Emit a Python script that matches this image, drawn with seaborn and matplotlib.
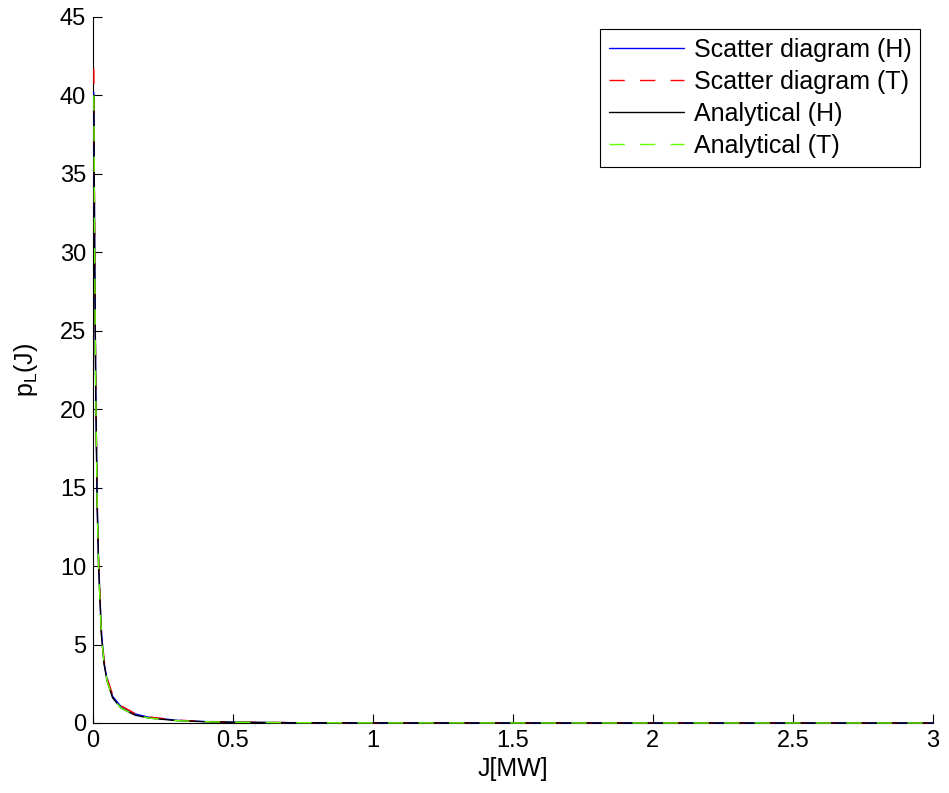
import numpy as np
import pandas as pd
import matplotlib
matplotlib.use("Agg")
import matplotlib.pyplot as plt
import seaborn as sns

# data
J = [0.003, 0.006, 0.01, 0.015, 0.02, 0.03, 0.04, 0.05, 0.07, 0.1, 0.15, 0.2, 0.3, 0.4, 0.5, 0.7, 1.0, 1.5, 2.0, 2.5, 3.0]
scatter_H = [40.2, 30.0, 21.0, 14.0, 10.2, 5.8, 3.8, 2.8, 1.7, 1.05, 0.58, 0.36, 0.17, 0.09, 0.05, 0.02, 0.008, 0.003, 0.001, 0.0005, 0.0002]
scatter_T = [41.7, 30.5, 21.2, 14.2, 10.3, 5.9, 3.9, 2.9, 1.8, 1.1, 0.6, 0.38, 0.18, 0.1, 0.055, 0.022, 0.009, 0.003, 0.001, 0.0005, 0.0002]
anal_H = [40.0, 29.5, 20.8, 13.8, 10.0, 5.6, 3.7, 2.7, 1.6, 0.95, 0.5, 0.31, 0.15, 0.08, 0.045, 0.018, 0.007, 0.002, 0.001, 0.0004, 0.0002]
anal_T = [40.0, 29.5, 20.8, 13.8, 10.0, 5.6, 3.7, 2.7, 1.6, 0.95, 0.5, 0.31, 0.15, 0.08, 0.045, 0.018, 0.007, 0.002, 0.001, 0.0004, 0.0002]
labels = ["Scatter diagram (H)", "Scatter diagram (T)", "Analytical (H)", "Analytical (T)"]
x_ticks = [0, 0.5, 1, 1.5, 2, 2.5, 3]
y_ticks = [0, 5, 10, 15, 20, 25, 30, 35, 40, 45]

sns.set_style("white")
plt.rcParams['font.family'] = ['Liberation Sans', 'DejaVu Sans']
plt.rcParams['text.color'] = 'black'
plt.rcParams['axes.labelcolor'] = 'black'

fig = plt.figure(figsize=(9.49, 7.93), dpi=100)
ax = fig.add_axes([0.098, 0.0883, 0.885, 0.8903])

df = pd.DataFrame({"J": J, "sH": scatter_H, "sT": scatter_T, "aH": anal_H, "aT": anal_T})
sns.lineplot(data=df, x="J", y="sH", ax=ax, color="#0000ff", lw=1.0, label=labels[0])
sns.lineplot(data=df, x="J", y="sT", ax=ax, color="#ff0000", lw=1.0, label=labels[1])
sns.lineplot(data=df, x="J", y="aH", ax=ax, color="#000000", lw=1.0, label=labels[2])
sns.lineplot(data=df, x="J", y="aT", ax=ax, color="#66ff00", lw=1.0, label=labels[3])
lines = ax.get_lines()
lines[1].set_dashes([11, 11])
lines[3].set_dashes([11, 11])
for ln in lines:
    ln.set_zorder(3)
    ln.set_clip_on(False)

ax.set_xlim(0, 3)
ax.set_ylim(0, 45)
ax.set_xticks(x_ticks)
ax.set_xticklabels([f"{t:g}" for t in x_ticks])
ax.set_yticks(y_ticks)
ax.tick_params(direction="in", length=6.5, width=0.8, labelsize=17, top=False, right=False,
               bottom=True, left=True, colors="black", pad=5)
for side in ["top", "right"]:
    ax.spines[side].set_visible(False)
for side in ["left", "bottom"]:
    ax.spines[side].set_color("black")
    ax.spines[side].set_linewidth(0.8)
ax.set_xlabel("J[MW]", fontsize=18, labelpad=4)
ax.set_ylabel(r"p$_\mathregular{L}$(J)", fontsize=18, labelpad=14)

leg = ax.legend(loc="upper right", fontsize=18, frameon=True, fancybox=False,
                edgecolor="black", handlelength=3.0, borderaxespad=0.5,
                labelspacing=0.32, handletextpad=0.4, borderpad=0.35)
leg.get_frame().set_linewidth(0.8)
leg.get_frame().set_alpha(1)
for h in leg.get_lines():
    h.set_linewidth(1.0)

fig.savefig("out.png", dpi=100)
